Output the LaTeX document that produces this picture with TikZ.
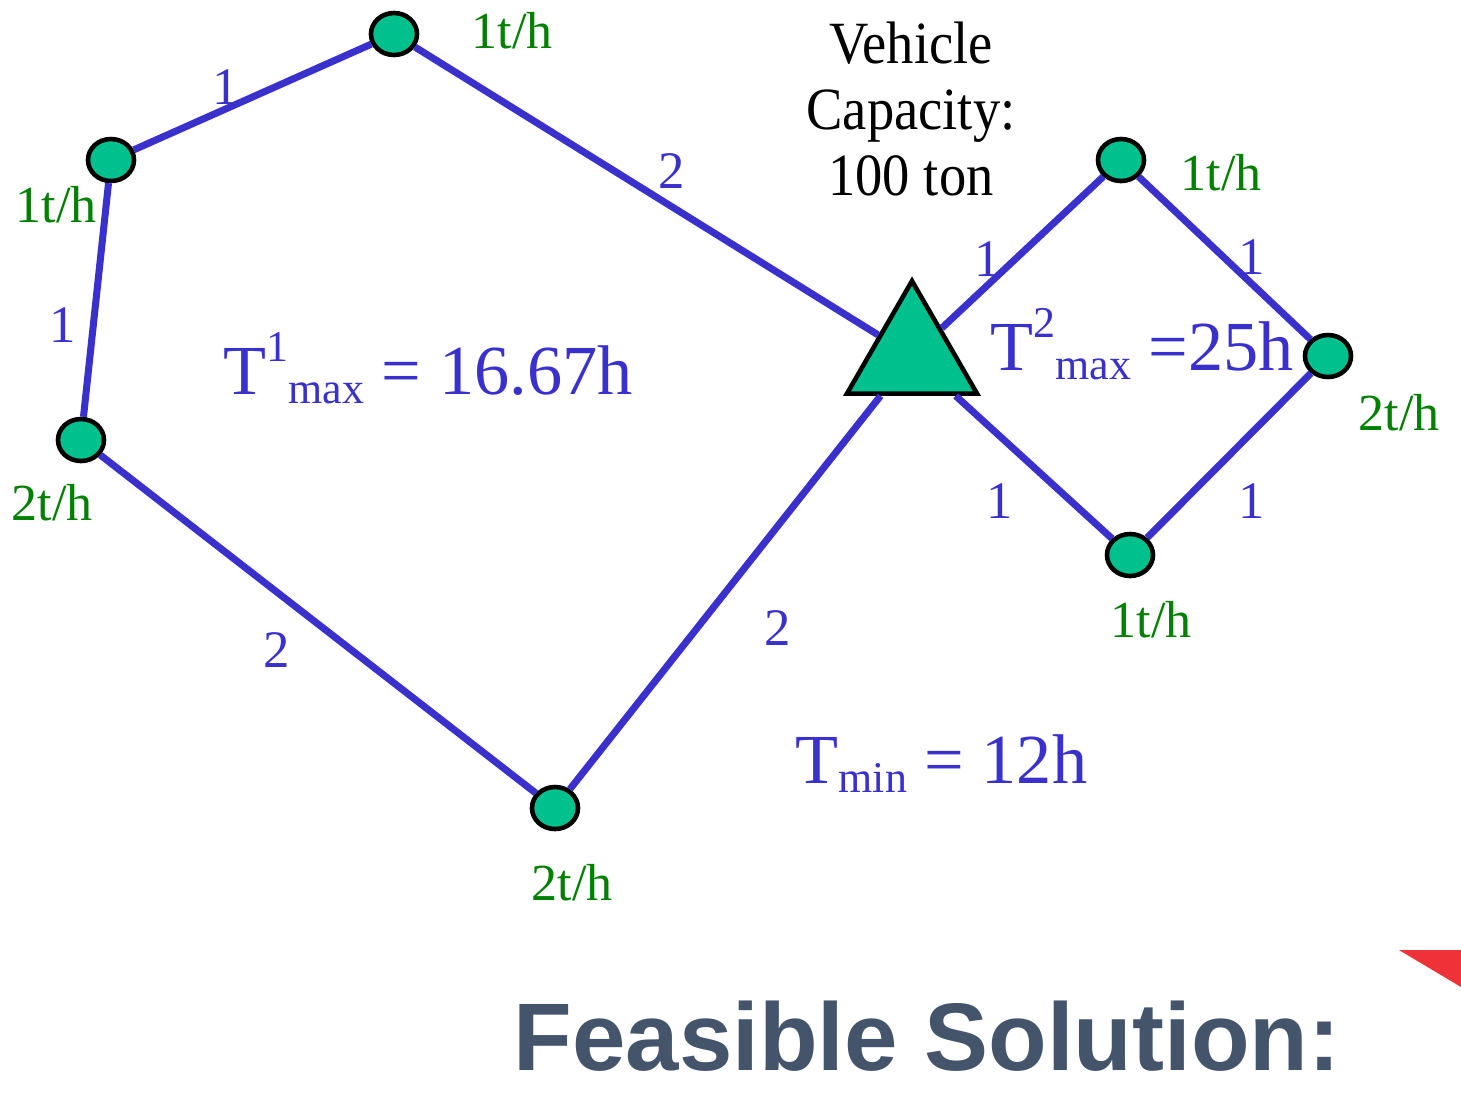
\documentclass[tikz,border=0pt]{standalone}
\usepackage{fontspec}
\setmainfont{Liberation Serif}
\setsansfont{Liberation Sans}
\usetikzlibrary{shapes.geometric}
\definecolor{rtblue}{HTML}{3A30CC}
\definecolor{rtgreen}{HTML}{00C08E}
\definecolor{rtrate}{HTML}{008000}
\definecolor{rtslate}{HTML}{44546A}
\definecolor{rtred}{HTML}{EE3237}

\newcommand{\rtsup}[1]{\raisebox{0.46em}{\fontsize{12.5}{12.5}\selectfont #1}}
\newcommand{\rtsub}[1]{\raisebox{-0.14em}{\fontsize{12.5}{12.5}\selectfont #1}}

\begin{document}
\begin{tikzpicture}[x=0.01cm, y=-0.01cm,
  cust/.style={ellipse, draw=black, line width=1.3pt, fill=rtgreen, minimum width=0.46cm, minimum height=0.42cm, inner sep=0pt},
  depotbox/.style={regular polygon, regular polygon sides=3, draw=black, line width=1.3pt, fill=rtgreen, minimum size=1.5cm, inner sep=0pt},
  route/.style={draw=rtblue, line width=2pt},
  wt/.style={anchor=base, text=rtblue, font=\fontsize{15}{15}\selectfont, inner sep=0pt},
  rate/.style={anchor=base, text=rtrate, font=\fontsize{14.8}{14.8}\selectfont, inner sep=0pt},
  tlab/.style={anchor=base west, text=rtblue, font=\fontsize{20}{20}\selectfont, inner sep=0pt}]
\useasboundingbox (0,0) rectangle (1461,1096);

% customers and depot
\node[cust] (a) at (394,34) {};
\node[cust] (b) at (111,160) {};
\node[cust] (c) at (81,440) {};
\node[cust] (d) at (555,808) {};
\node[cust] (e) at (1121,160) {};
\node[cust] (f) at (1328,356) {};
\node[cust] (g) at (1130,555) {};
\node[depotbox] (depot) at (912,356) {};

% routes
\draw[route] (depot) -- (a);
\draw[route] (a) -- (b);
\draw[route] (b) -- (c);
\draw[route] (c) -- (d);
\draw[route] (d) -- (depot);
\draw[route] (depot) -- (e);
\draw[route] (e) -- (f);
\draw[route] (f) -- (g);
\draw[route] (g) -- (depot);

% travel times
\node[wt] (wab) at (226,104) {1};
\node[wt] (wad) at (672,188) {2};
\node[wt] (wbc) at (63,342) {1};
\node[wt] (wcd) at (277,667) {2};
\node[wt] (wdd) at (778,645) {2};
\node[wt] (wde) at (988,276) {1};
\node[wt] (wef) at (1252,274) {1};
\node[wt] (wgd) at (1000,518) {1};
\node[wt] (wfg) at (1252,518) {1};

% demand rates
\node[rate] (ra) at (512,48) {1t/h};
\node[rate] (rb) at (56,222) {1t/h};
\node[rate] (rc) at (52,520) {2t/h};
\node[rate] (rd) at (572,900) {2t/h};
\node[rate] (re) at (1221,190) {1t/h};
\node[rate] (rf) at (1399,430) {2t/h};
\node[rate] (rg) at (1151,637) {1t/h};

% captions
\node[inner sep=0pt, font=\fontsize{15.5}{17.1}\selectfont] (cap) at (911,116)
  {\scalebox{1}[1.1]{\begin{tabular}{@{}c@{}}Vehicle\\Capacity:\\100 ton\end{tabular}}};
\node[tlab] (tone) at (223,394) {T\rtsup{1}\rtsub{max} = 16.67h};
\node[tlab] (ttwo) at (990,370) {T\rtsup{2}\rtsub{max} =25h};
\node[tlab] (tmin) at (795,783) {T\rtsub{min} = 12h};
\node[anchor=base west, inner sep=0pt, text=rtslate, font=\sffamily\bfseries\fontsize{27.3}{27.3}\selectfont] (title) at (513,1070) {Feasible Solution:};
\fill[rtred] (1399,950) -- (1461,950) -- (1461,987) -- cycle;
\end{tikzpicture}
\end{document}
